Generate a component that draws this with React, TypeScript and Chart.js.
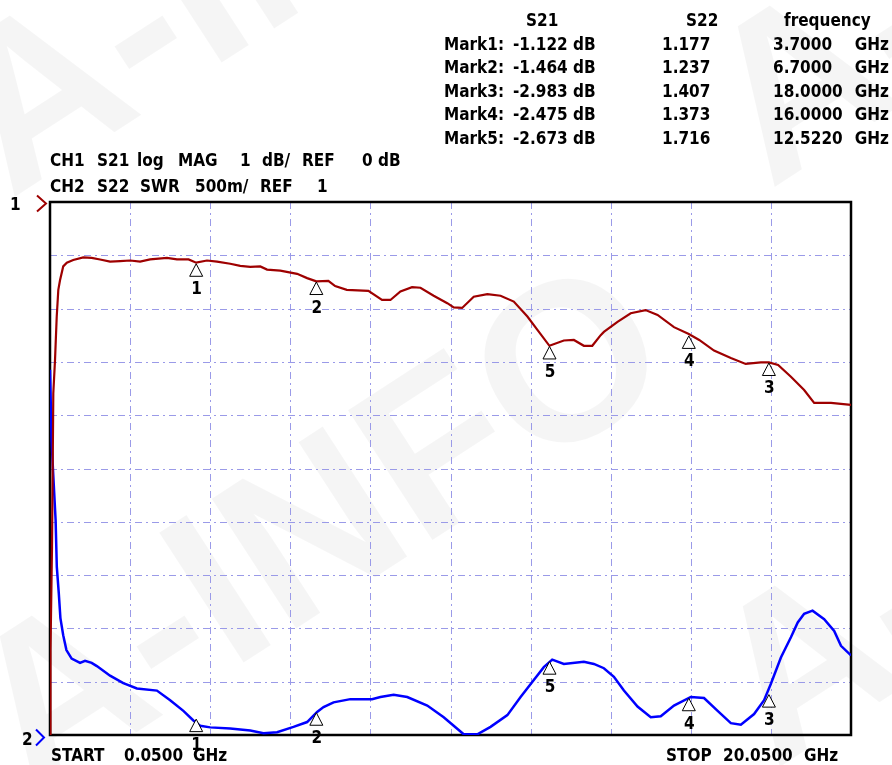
import React, { useEffect, useRef } from "react";
import { Chart, registerables } from "chart.js";

Chart.register(...registerables);

// ---- data ----
const startGHz = 0.05;
const stopGHz = 20.05;

const freqS21 = [
  0.05, 0.0625, 0.1, 0.1325, 0.175, 0.2175, 0.2575, 0.3, 0.38, 0.47, 0.63, 0.88, 1.09, 1.3, 1.55, 1.8,
  2.05, 2.3, 2.55, 2.97, 3.22, 3.51, 3.7, 3.97, 4.22, 4.55, 4.8, 5.05, 5.3, 5.47, 5.8, 6.22, 6.47,
  6.7, 7.0, 7.17, 7.46, 8.0, 8.34, 8.55, 8.8, 9.09, 9.3, 9.63, 9.97, 10.13, 10.34, 10.63, 10.97,
  11.3, 11.63, 11.97, 12.22, 12.52, 12.88, 13.13, 13.38, 13.59, 13.8, 13.88, 14.22, 14.55, 14.92,
  15.22, 15.63, 16.0, 16.26, 16.63, 17.05, 17.42, 17.8, 18.0, 18.23, 18.55, 18.88, 19.13, 19.55, 20.05,
];
const s21dB = [
  -9.97, -8.38, -6.44, -3.56, -2.94, -2.13, -1.62, -1.44, -1.18, -1.11, -1.06, -1.01, -1.02, -1.05,
  -1.09, -1.08, -1.07, -1.09, -1.05, -1.02, -1.05, -1.05, -1.11, -1.07, -1.09, -1.13, -1.17, -1.19,
  -1.18, -1.24, -1.26, -1.32, -1.4, -1.46, -1.45, -1.55, -1.62, -1.64, -1.81, -1.81, -1.65, -1.57,
  -1.58, -1.73, -1.87, -1.95, -1.96, -1.75, -1.7, -1.73, -1.84, -2.12, -2.37, -2.67, -2.57, -2.56,
  -2.67, -2.67, -2.47, -2.41, -2.22, -2.06, -2.0, -2.09, -2.32, -2.45, -2.56, -2.76, -2.9, -3.01,
  -2.98, -2.98, -3.03, -3.25, -3.5, -3.74, -3.74, -3.78,
];

const freqS22 = [
  0.05, 0.09, 0.125, 0.19, 0.22, 0.27, 0.31, 0.38, 0.46, 0.59, 0.8, 0.925, 1.09, 1.22, 1.55, 1.88,
  2.22, 2.72, 3.05, 3.38, 3.63, 3.8, 4.05, 4.55, 5.05, 5.38, 5.72, 6.13, 6.47, 6.72, 6.88, 7.13,
  7.55, 8.09, 8.3, 8.63, 8.97, 9.47, 9.88, 10.13, 10.38, 10.72, 11.05, 11.47, 11.8, 12.13, 12.38,
  12.59, 12.88, 13.38, 13.63, 13.88, 14.13, 14.38, 14.72, 15.05, 15.3, 15.63, 16.05, 16.38, 16.72,
  17.05, 17.3, 17.63, 17.88, 18.05, 18.3, 18.55, 18.72, 18.88, 19.09, 19.38, 19.63, 19.8, 20.05,
];
const s22SWR = [
  4.45, 3.79, 3.51, 3.04, 2.6, 2.35, 2.12, 1.96, 1.82, 1.74, 1.7, 1.72, 1.7, 1.67, 1.58, 1.51,
  1.46, 1.44, 1.35, 1.25, 1.16, 1.11, 1.095, 1.085, 1.065, 1.04, 1.05, 1.1, 1.145, 1.24, 1.285, 1.33,
  1.36, 1.36, 1.38, 1.4, 1.38, 1.3, 1.19, 1.11, 1.03, 1.03, 1.1, 1.21, 1.38, 1.54, 1.66,
  1.73, 1.69, 1.71, 1.69, 1.65, 1.57, 1.44, 1.29, 1.19, 1.2, 1.3, 1.38, 1.37, 1.25,
  1.135, 1.12, 1.22, 1.35, 1.505, 1.75, 1.94, 2.08, 2.16, 2.19, 2.11, 2.0, 1.86, 1.77,
];

const markerNames = ["Mark1", "Mark2", "Mark3", "Mark4", "Mark5"];
const markerFreqGHz = [3.7, 6.7, 18.0, 16.0, 12.522];
const markerFreqText = ["3.7000", "6.7000", "18.0000", "16.0000", "12.5220"];
const markerS21 = [-1.122, -1.464, -2.983, -2.475, -2.673];
const markerS22 = [1.177, 1.237, 1.407, 1.373, 1.716];

// channel settings
const s21Ref = 0; // dB
const s21PerDiv = 1; // dB/div
const s22Ref = 1; // SWR
const s22PerDiv = 0.5; // SWR/div
const divisions = 10;

const RED = "#9e0000";
const BLUE = "#0000ff";
const GRID = "#9a9ae8";
const FONT = "bold 17px 'DejaVu Sans Condensed', 'DejaVu Sans', sans-serif";

export default function App() {
  const ref = useRef<HTMLCanvasElement | null>(null);

  useEffect(() => {
    const canvas = ref.current;
    if (!canvas) return;

    const setFont = (ctx: CanvasRenderingContext2D) => {
      ctx.font = FONT;
      try {
        (ctx as any).fontStretch = "condensed";
      } catch (e) {}
    };

    const vnaPlugin = {
      id: "vna",
      beforeDraw(chart: any) {
        const ctx: CanvasRenderingContext2D = chart.ctx;
        ctx.save();
        ctx.fillStyle = "#ffffff";
        ctx.fillRect(0, 0, chart.width, chart.height);
        // watermark
        ctx.fillStyle = "rgba(0,0,0,0.038)";
        ctx.font = "bold 225px 'Liberation Sans', sans-serif";
        const origins = [
          [32, 800],
          [10, 200],
          [775, 770],
          [770, 190],
        ];
        for (const [ox, oy] of origins) {
          ctx.save();
          ctx.translate(ox, oy);
          ctx.rotate((-33 * Math.PI) / 180);
          ctx.fillText("A-INFO", 0, 0);
          ctx.restore();
        }
        ctx.restore();
      },
      beforeDatasetsDraw(chart: any) {
        const ctx: CanvasRenderingContext2D = chart.ctx;
        const a = chart.chartArea;
        ctx.save();
        ctx.strokeStyle = GRID;
        ctx.lineWidth = 1;
        ctx.setLineDash([7, 4, 2, 4]);
        for (let i = 1; i < divisions; i++) {
          const x = Math.round(a.left + ((a.right - a.left) * i) / divisions) + 0.5;
          ctx.beginPath();
          ctx.moveTo(x, a.top);
          ctx.lineTo(x, a.bottom);
          ctx.stroke();
          const y = Math.round(a.top + ((a.bottom - a.top) * i) / divisions) + 0.5;
          ctx.beginPath();
          ctx.moveTo(a.left, y);
          ctx.lineTo(a.right, y);
          ctx.stroke();
        }
        ctx.setLineDash([]);
        ctx.strokeStyle = "#000000";
        ctx.lineWidth = 2.5;
        ctx.strokeRect(a.left, a.top, a.right - a.left, a.bottom - a.top);
        ctx.restore();
      },
      afterDatasetsDraw(chart: any) {
        const ctx: CanvasRenderingContext2D = chart.ctx;
        const xs = chart.scales.x;
        const y1 = chart.scales.y;
        const y2 = chart.scales.y2;
        ctx.save();
        setFont(ctx);

        const drawMarker = (px: number, py: number, label: string) => {
          ctx.beginPath();
          ctx.moveTo(px, py + 0.5);
          ctx.lineTo(px + 6.5, py + 13);
          ctx.lineTo(px - 6.5, py + 13);
          ctx.closePath();
          ctx.fillStyle = "#ffffff";
          ctx.fill();
          ctx.strokeStyle = "#000000";
          ctx.lineWidth = 1;
          ctx.stroke();
          ctx.fillStyle = "#000000";
          ctx.textAlign = "center";
          ctx.textBaseline = "alphabetic";
          ctx.fillText(label, px + 0.5, py + 31);
        };

        for (let i = 0; i < markerFreqGHz.length; i++) {
          const px = xs.getPixelForValue(markerFreqGHz[i]);
          drawMarker(px, y1.getPixelForValue(markerS21[i]), String(i + 1));
          drawMarker(px, y2.getPixelForValue(markerS22[i]), String(i + 1));
        }

        // reference indicators
        const refY1 = y1.getPixelForValue(s21Ref);
        const refY2 = y2.getPixelForValue(s22Ref);
        ctx.lineWidth = 2;
        ctx.strokeStyle = RED;
        ctx.beginPath();
        ctx.moveTo(37, refY1 - 8);
        ctx.lineTo(46, refY1);
        ctx.lineTo(37, refY1 + 8);
        ctx.stroke();
        ctx.strokeStyle = BLUE;
        ctx.beginPath();
        ctx.moveTo(36, refY2 - 8);
        ctx.lineTo(44, refY2);
        ctx.lineTo(36, refY2 + 8);
        ctx.stroke();

        ctx.fillStyle = "#000000";
        ctx.textAlign = "left";
        ctx.fillText("1", 10, refY1 + 7);
        ctx.fillText("2", 22, refY2 + 7);

        // channel header
        const h1: [string, number][] = [
          ["CH1", 50], ["S21", 97], ["log", 137], ["MAG", 178], [String(s21PerDiv), 240],
          ["dB/", 262], ["REF", 302], [s21Ref + " dB", 362],
        ];
        const h2: [string, number][] = [
          ["CH2", 50], ["S22", 97], ["SWR", 140], [s22PerDiv * 1000 + "m/", 195], ["REF", 260],
          [String(s22Ref), 317],
        ];
        for (const [t, x] of h1) ctx.fillText(t, x, 166);
        for (const [t, x] of h2) ctx.fillText(t, x, 191.5);

        // start / stop
        ctx.fillText("START", 51, 760.5);
        ctx.fillText(startGHz.toFixed(4), 124, 760.5);
        ctx.fillText("GHz", 193, 760.5);
        ctx.fillText("STOP", 666, 760.5);
        ctx.fillText(stopGHz.toFixed(4), 723, 760.5);
        ctx.fillText("GHz", 804, 760.5);

        // marker table
        ctx.fillText("S21", 526, 26.3);
        ctx.fillText("S22", 686, 26.3);
        ctx.fillText("frequency", 784, 26.3);
        for (let i = 0; i < markerNames.length; i++) {
          const by = 49.6 + i * 23.6;
          ctx.textAlign = "left";
          ctx.fillText(markerNames[i] + ":", 444, by);
          ctx.fillText(markerS21[i].toFixed(3) + " dB", 513, by);
          ctx.fillText(markerS22[i].toFixed(3), 662, by);
          ctx.fillText(markerFreqText[i], 773, by);
          ctx.textAlign = "right";
          ctx.fillText("GHz", 889, by);
        }
        ctx.restore();
      },
    };

    const chart = new Chart(canvas, {
      type: "line",
      data: {
        datasets: [
          {
            label: "S21",
            data: freqS21.map((f, i) => ({ x: f, y: s21dB[i] })),
            borderColor: RED,
            borderWidth: 2.2,
            pointRadius: 0,
            tension: 0,
            yAxisID: "y",
          },
          {
            label: "S22",
            data: freqS22.map((f, i) => ({ x: f, y: s22SWR[i] })),
            borderColor: BLUE,
            borderWidth: 2.5,
            pointRadius: 0,
            tension: 0,
            yAxisID: "y2",
          },
        ],
      },
      options: {
        responsive: false,
        animation: false,
        devicePixelRatio: 1,
        layout: { padding: { left: 50, top: 202, right: 41, bottom: 30 } },
        plugins: { legend: { display: false }, tooltip: { enabled: false } },
        scales: {
          x: { type: "linear", min: startGHz, max: stopGHz, display: false },
          y: {
            type: "linear",
            min: s21Ref - divisions * s21PerDiv + 0.028,
            max: s21Ref + 0.028,
            display: false,
          },
          y2: {
            type: "linear",
            min: s22Ref + 0.0235,
            max: s22Ref + divisions * s22PerDiv + 0.0235,
            display: false,
          },
        },
      },
      plugins: [vnaPlugin],
    });

    return () => chart.destroy();
  }, []);

  return (
    <div style={{ position: "absolute", left: 0, top: 0, width: 892, height: 765 }}>
      <canvas ref={ref} width={892} height={765} style={{ display: "block" }} />
    </div>
  );
}
